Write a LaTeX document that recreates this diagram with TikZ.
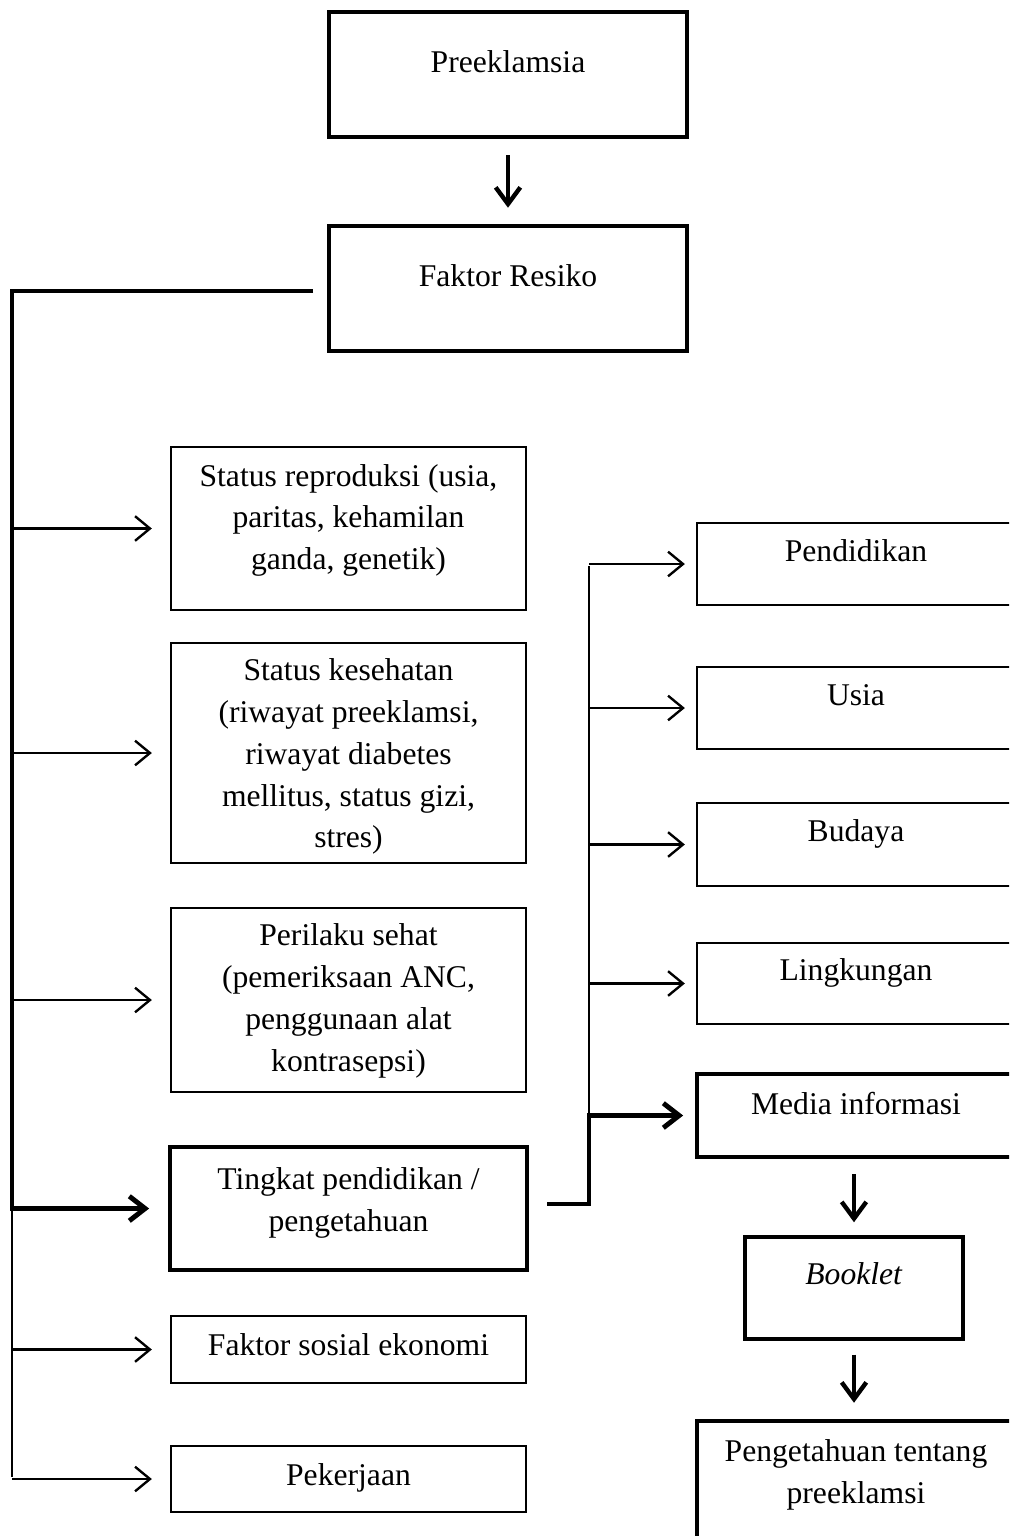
\documentclass[tikz,border=0pt]{standalone}
\usepackage{fontspec}
\setmainfont{Liberation Serif}
\usetikzlibrary{arrows.meta}

% text block raised inside its box, box size unchanged
\newcommand\lifted[2]{\raisebox{#1}[\height][\depth]{\begin{tabular}{@{}c@{}}#2\end{tabular}}}

\tikzset{
  thinbox/.style={draw, line width=0.85pt, inner sep=0pt},
  thickbox/.style={draw, line width=2.8pt, inner sep=0pt},
  thinarrow/.style={line width=1.35pt, -{Straight Barb[length=8.5pt,width=14pt]}},
  thickarrow/.style={line width=2.8pt, line join=miter, -{Straight Barb[length=9pt,width=14pt]}},
  downarrow/.style={line width=2.5pt, -{Straight Barb[length=9.5pt,width=14pt]}},
}

\begin{document}
\begin{tikzpicture}[x=0.02cm, y=-0.02cm, font=\fontsize{18}{23.8}\selectfont]
\useasboundingbox (0,0) rectangle (1009,1536);
\clip (0,0) rectangle (1009,1536);

% top
\node[thickbox, minimum width=7.16cm, minimum height=2.5cm] (pre) at (508,74.5) {\lifted{5.7pt}{Preeklamsia}};
\node[thickbox, minimum width=7.16cm, minimum height=2.5cm] (fak) at (508,288.5) {\lifted{5.7pt}{Faktor Resiko}};

% left column
\node[thinbox, minimum width=7.1cm, minimum height=3.26cm] (rep) at (348.5,528.5)
  {\lifted{5.1pt}{Status reproduksi (usia,\\ paritas, kehamilan\\ ganda, genetik)}};
\node[thinbox, minimum width=7.1cm, minimum height=4.4cm] (kes) at (348.5,753)
  {\lifted{-1.7pt}{Status kesehatan\\ (riwayat preeklamsi,\\ riwayat diabetes\\ mellitus, status gizi,\\ stres)}};
\node[thinbox, minimum width=7.1cm, minimum height=3.68cm] (per) at (348.5,1000)
  {\lifted{0pt}{Perilaku sehat\\ (pemeriksaan ANC,\\ penggunaan alat\\ kontrasepsi)}};
\node[thickbox, minimum width=7.14cm, minimum height=2.46cm] (tin) at (348.5,1208.5)
  {\lifted{3.4pt}{Tingkat pendidikan /\\ pengetahuan}};
\node[thinbox, minimum width=7.1cm, minimum height=1.34cm] (sos) at (348.5,1349.5) {\lifted{1.1pt}{Faktor sosial ekonomi}};
\node[thinbox, minimum width=7.1cm, minimum height=1.32cm] (pek) at (348.5,1479) {\lifted{1.1pt}{Pekerjaan}};

% right column
\node[thinbox, minimum width=6.36cm, minimum height=1.64cm] (pen) at (856,564) {\lifted{6.2pt}{Pendidikan}};
\node[thinbox, minimum width=6.36cm, minimum height=1.64cm] (usi) at (856,708) {\lifted{6.2pt}{Usia}};
\node[thinbox, minimum width=6.36cm, minimum height=1.66cm] (bud) at (856,844.5) {\lifted{6.2pt}{Budaya}};
\node[thinbox, minimum width=6.36cm, minimum height=1.62cm] (lin) at (856,983.5) {\lifted{6.2pt}{Lingkungan}};
\node[thickbox, minimum width=6.36cm, minimum height=1.66cm] (med) at (856,1115.5) {\lifted{5.4pt}{Media informasi}};
\node[thickbox, minimum width=4.36cm, minimum height=2.04cm] (boo) at (854,1288) {\lifted{6.5pt}{\textit{Booklet}}};
\node[thickbox, minimum width=6.36cm, minimum height=2.58cm] (peng) at (856,1485.5)
  {\lifted{6.5pt}{Pengetahuan tentang\\ preeklamsi}};

% down arrows
\draw[downarrow, shorten <=9pt, shorten >=9pt] (pre.south) -- (fak.north);
\draw[downarrow, shorten <=8.5pt, shorten >=7pt] (boo.north |- med.south) -- (boo.north);
\draw[downarrow, shorten <=7.5pt, shorten >=9pt] (boo.south) -- (boo.south |- peng.north);

% left spine
\coordinate (top) at (313,291);
\coordinate (corner) at (12,291);
\coordinate (knee) at (12,1206);
\coordinate (foot) at (12,1477);
\draw[thickarrow, shorten >=10.5pt] (top) -- (corner) |- (tin.west);
\draw[line width=0.85pt] (knee) -- (foot);
\foreach \n in {rep,kes,per,sos,pek}
  \draw[thinarrow, shorten >=10.5pt] (corner |- \n.west) -- (\n.west);

% right bus
\coordinate (bus) at (589,566);
\coordinate (tout) at (547,1204);
\draw[line width=0.85pt] (bus) -- (bus |- med.west);
\foreach \n in {pen,usi,bud,lin}
  \draw[thinarrow, shorten >=6.5pt] (bus |- \n.west) -- (\n.west);
\draw[thickarrow, shorten >=6.5pt] (tout) -| (bus |- med.west) -- (med.west);
\end{tikzpicture}
\end{document}
